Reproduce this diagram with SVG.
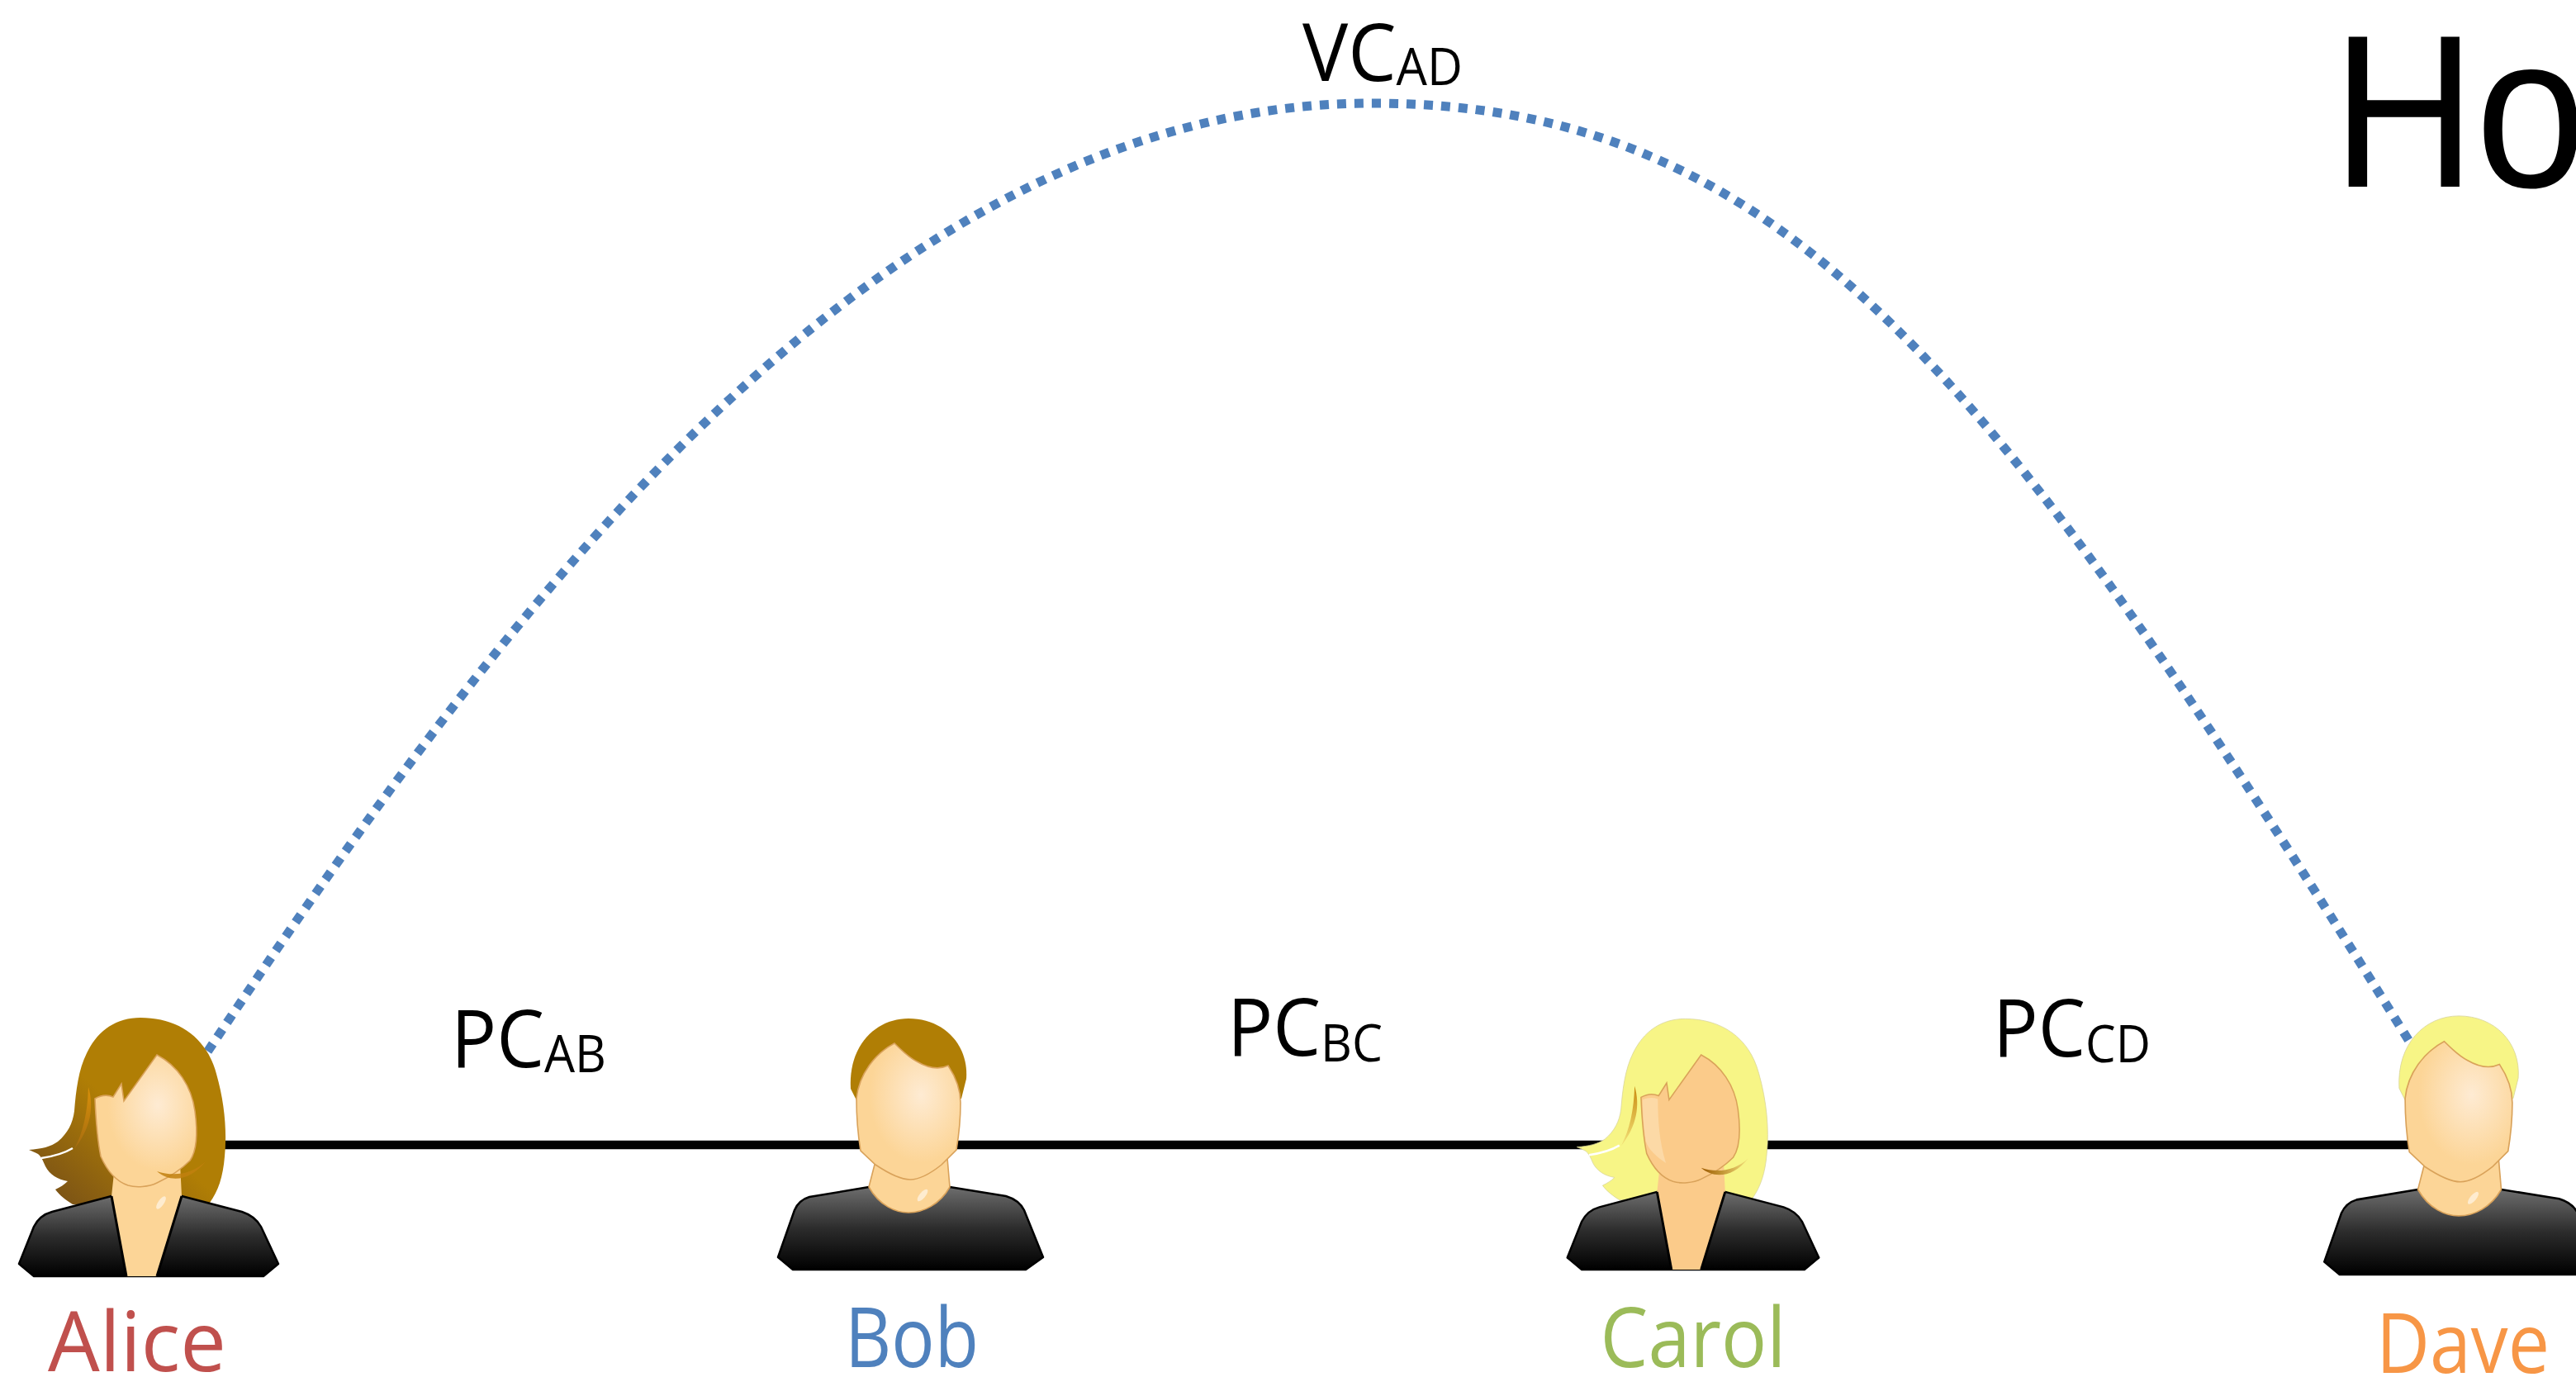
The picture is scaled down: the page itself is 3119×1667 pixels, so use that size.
<svg xmlns="http://www.w3.org/2000/svg" xmlns:xlink="http://www.w3.org/1999/xlink" width="3119" height="1667" viewBox="0 0 3119 1667">
  <style>
    .shirt { fill: url(#shirt); stroke: #000; stroke-width: 2.5; stroke-linejoin: round; }
    .skin-line { stroke: #D9A25A; stroke-width: 1.6; }
    .lapel { fill: none; stroke: #000; stroke-width: 3; }
    .glint { fill: #fff; opacity: 0.55; }
    .name { font-family: "Open Sans", "DejaVu Sans", sans-serif; font-size: 100px; text-anchor: middle; }
    .edge-label { font-family: "Open Sans", "DejaVu Sans", sans-serif; font-size: 97px; fill: #000; }
    .sub { font-size: 62px; }
    .link { fill: none; stroke: #000; stroke-width: 10.5; }
    .virtual { fill: none; stroke: #4F81BD; stroke-width: 11; stroke-dasharray: 11 10; }
  </style>
  <defs>
    <linearGradient id="shirt" x1="0" y1="0" x2="0" y2="1">
      <stop offset="0" stop-color="#6d6d6d"/>
      <stop offset="0.5" stop-color="#2c2c2c"/>
      <stop offset="1" stop-color="#000"/>
    </linearGradient>
    <radialGradient id="skinGlow" cx="0.62" cy="0.38" r="0.62">
      <stop offset="0" stop-color="#FEEBD3"/>
      <stop offset="0.8" stop-color="#FCD597"/>
    </radialGradient>
    <linearGradient id="hairBrownF" x1="0.9" y1="0.1" x2="0.1" y2="0.95">
      <stop offset="0.5" stop-color="#B07E05"/>
      <stop offset="1" stop-color="#7A5216"/>
    </linearGradient>
    <linearGradient id="strandBrown" x1="0" y1="0" x2="0" y2="1">
      <stop offset="0" stop-color="#D9900A"/>
      <stop offset="1" stop-color="#A56C10"/>
    </linearGradient>
    <linearGradient id="strandBlonde" x1="0" y1="0" x2="0" y2="1">
      <stop offset="0" stop-color="#C98A10"/>
      <stop offset="1" stop-color="#F3E27A"/>
    </linearGradient>
    <linearGradient id="strandBlondeR" x1="0" y1="0.5" x2="1" y2="0.5">
      <stop offset="0" stop-color="#9C5A00"/>
      <stop offset="1" stop-color="#F3E07A"/>
    </linearGradient>

    <!-- woman: hair, shirt, neck and face outlines -->
    <path id="fHair" d="M170,1232 C215,1232 250,1255 262,1300 C272,1335 275,1370 272,1400 C270,1425 264,1442 254,1456 L88,1458 C80,1453 72,1447 67,1440 C73,1437 78,1434 82,1430 C70,1428 60,1422 55,1412 C52,1405 50,1400 46,1397 C42,1395 38,1393 35,1392 C50,1391 62,1388 70,1382 C82,1372 88,1360 90,1345 C92,1320 95,1295 105,1275 C118,1248 140,1232 170,1232 Z"/>
    <path id="fShirt" d="M135,1448 L63,1467 C52,1470 45,1477 41,1485 L23,1530 L41,1545 L319,1545 L337,1530 L316,1485 C311,1476 302,1470 293,1467 L220,1448 Z"/>
    <path id="fNeck" d="M138,1420 L135,1448 L153,1545 L190,1545 L220,1448 L218,1408 C205,1424 185,1436 165,1437 C155,1435 145,1429 138,1420 Z"/>
    <path id="fFace" d="M115,1330 C122,1326 130,1325 137,1328 L147,1312 L150,1333 L190,1277 C215,1290 232,1315 236,1345 C240,1375 237,1395 230,1405 C220,1415 205,1425 190,1432 C180,1437 165,1438 155,1435 C140,1430 130,1418 122,1400 C118,1380 116,1355 115,1330 Z"/>
    <path id="fStrandL" d="M107,1316 C114,1340 110,1366 90,1391 C101,1370 106,1346 107,1316 Z"/>
    <path id="fStrandR" d="M190,1418 C206,1432 230,1430 249,1406 C233,1421 211,1425 190,1418 Z"/>

    <!-- man: hair, shirt, neck and face outlines -->
    <path id="mHair" d="M1030,1318 C1027,1266 1060,1233 1100,1233 C1142,1233 1173,1264 1170,1306 L1164,1330 L1037,1332 Z"/>
    <path id="mShirt" d="M1052,1437 L980,1449 C970,1452 965,1458 962,1465 L942,1522 L960,1537 L1242,1537 L1263,1522 L1240,1465 C1236,1457 1228,1451 1218,1448 L1150,1437 Z"/>
    <path id="mNeck" d="M1061,1402 L1052,1437 C1065,1460 1085,1468 1100,1468 C1118,1468 1138,1458 1150,1437 L1147,1402 Z"/>
    <path id="mFace" d="M1037,1330 C1040,1300 1060,1275 1083,1263 C1092,1272 1100,1280 1110,1285 C1122,1292 1135,1296 1148,1290 C1158,1305 1163,1320 1163,1335 C1163,1360 1160,1380 1158,1392 L1140,1410 C1125,1422 1112,1428 1102,1428 C1090,1428 1075,1420 1060,1410 L1042,1393 C1039,1375 1037,1350 1037,1330 Z"/>
  </defs>

  <rect width="3119" height="1667" fill="#fff"/>

  <!-- title (runs off the right edge) -->
  <text transform="translate(2824 226) scale(0.91 1)" font-family="'Liberation Sans', Arial, sans-serif" font-size="264" fill="#000">Ho</text>

  <!-- channels between the participants -->
  <g id="connectors">
    <path class="link" d="M200,1386 L2920,1386"/>
    <path class="virtual" d="M240,1290 C600,750 1061,125 1661,125 C2161,125 2414,453 2918,1262"/>
    <text class="edge-label" x="1577" y="98" textLength="194" lengthAdjust="spacingAndGlyphs">VC<tspan class="sub" dy="5">AD</tspan></text>
    <text class="edge-label" x="546" y="1292" textLength="188" lengthAdjust="spacingAndGlyphs">PC<tspan class="sub" dy="6">AB</tspan></text>
    <text class="edge-label" x="1486" y="1278" textLength="188" lengthAdjust="spacingAndGlyphs">PC<tspan class="sub" dy="7">BC</tspan></text>
    <text class="edge-label" x="2413" y="1279" textLength="191" lengthAdjust="spacingAndGlyphs">PC<tspan class="sub" dy="7">CD</tspan></text>
  </g>

  <g id="alice">
    <use href="#fHair" fill="url(#hairBrownF)"/>
    <path d="M50,1402 C64,1400 78,1396 88,1390" fill="none" stroke="#fff" stroke-width="2.5"/>
    <use href="#fStrandL" fill="url(#strandBrown)"/>
    <use href="#fShirt" class="shirt"/>
    <use href="#fNeck" fill="#FCD597"/>
    <path class="lapel" d="M135,1448 L153,1545 M220,1448 L190,1545"/>
    <use href="#fFace" fill="url(#skinGlow)" class="skin-line"/>
    <use href="#fStrandR" fill="#C1800F" opacity="0.85"/>
    <ellipse class="glint" cx="195" cy="1456" rx="3.5" ry="9" transform="rotate(35 195 1456)"/>
    <text class="name" x="166" y="1660" fill="#C0504D" textLength="216" lengthAdjust="spacingAndGlyphs">Alice</text>
  </g>

  <g id="bob">
    <use href="#mHair" fill="#B07E05"/>
    <use href="#mShirt" class="shirt"/>
    <use href="#mNeck" fill="#FCD597" class="skin-line"/>
    <use href="#mFace" fill="url(#skinGlow)" class="skin-line"/>
    <ellipse class="glint" cx="1117" cy="1447" rx="3.5" ry="9" transform="rotate(40 1117 1447)"/>
    <text class="name" x="1104" y="1655" fill="#4F81BD" textLength="162" lengthAdjust="spacingAndGlyphs">Bob</text>
  </g>

  <g id="carol">
    <g transform="matrix(0.97 0 0 0.97 1875.4 38.35)">
      <use href="#fHair" fill="#F7F586" stroke="#D8D49A" stroke-width="0.8"/>
      <path d="M50,1402 C64,1400 78,1396 88,1390" fill="none" stroke="#fff" stroke-width="2.5"/>
      <use href="#fStrandL" fill="url(#strandBlonde)"/>
      <use href="#fShirt" class="shirt"/>
      <use href="#fNeck" fill="#FBCB8A"/>
      <path class="lapel" d="M135,1448 L153,1545 M220,1448 L190,1545"/>
      <use href="#fFace" fill="#FBCB8A" class="skin-line"/>
      <path d="M117,1333 C124,1330 130,1330 136,1332 C136,1360 138,1385 146,1412 C134,1404 124,1395 121,1385 C118,1365 117,1348 117,1333 Z" fill="#FCD9A6"/>
      <use href="#fStrandR" fill="url(#strandBlondeR)"/>
    </g>
    <text class="name" x="2050" y="1655" fill="#9BBB59" textLength="225" lengthAdjust="spacingAndGlyphs">Carol</text>
  </g>

  <g id="dave">
    <g transform="matrix(1.03 0 0 1.03 1844 -40.1)">
      <use href="#mHair" fill="#F7F586" stroke="#D8D49A" stroke-width="0.8"/>
      <use href="#mShirt" class="shirt"/>
      <use href="#mNeck" fill="#FCD597" class="skin-line"/>
      <use href="#mFace" fill="url(#skinGlow)" class="skin-line"/>
      <ellipse class="glint" cx="1117" cy="1447" rx="3.5" ry="9" transform="rotate(40 1117 1447)"/>
    </g>
    <text class="name" x="2982" y="1662" fill="#F79646" textLength="210" lengthAdjust="spacingAndGlyphs">Dave</text>
  </g>
</svg>
